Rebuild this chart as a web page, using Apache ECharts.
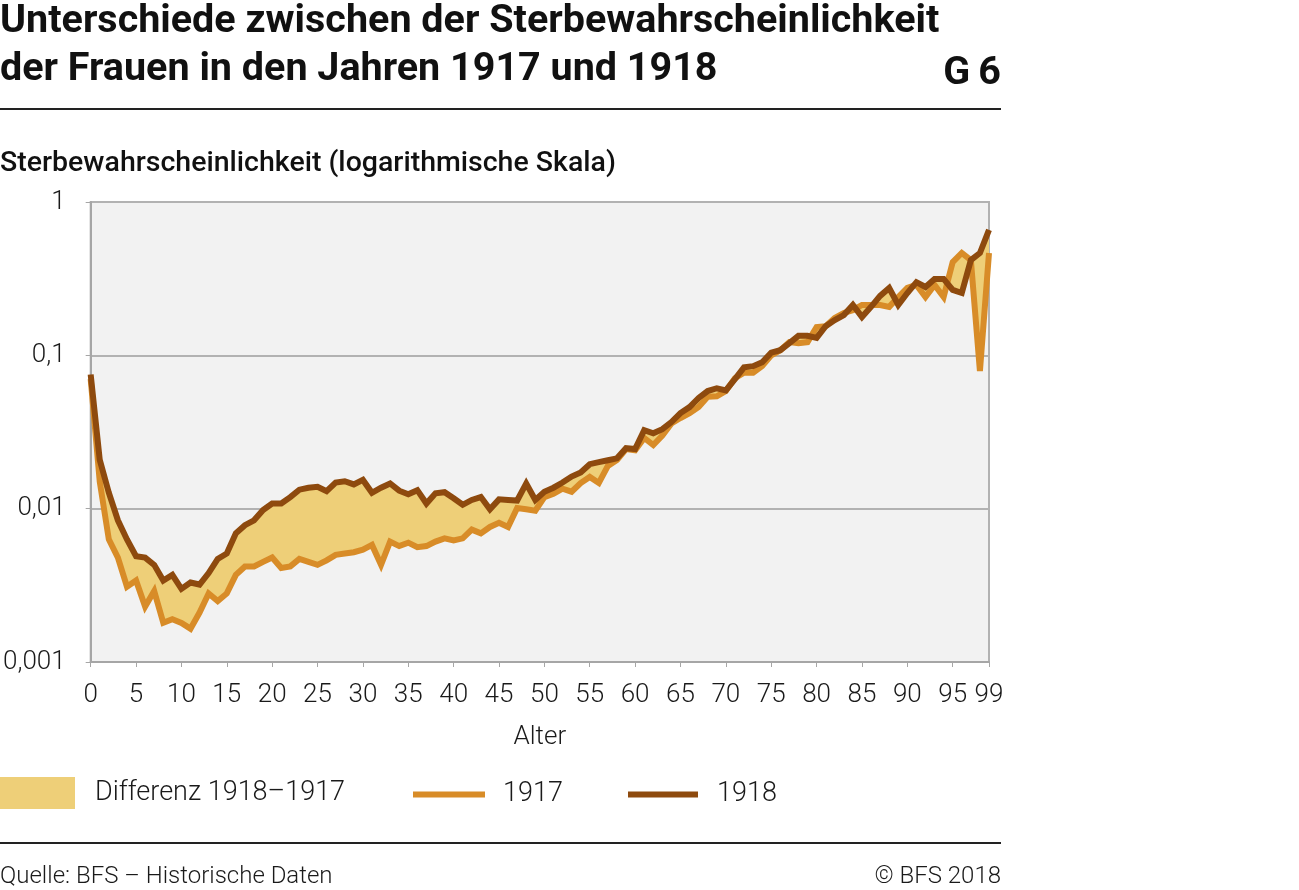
<!DOCTYPE html>
<html>
<head>
<meta charset="utf-8">
<script src="https://cdn.jsdelivr.net/npm/echarts@6/dist/echarts.min.js"></script>
<style>html,body{margin:0;padding:0;background:#fff}#c{width:1299px;height:890px}</style>
</head>
<body>
<div id="c"></div>
<script>
// ---- data ----
const ages = [];
for (let a = 0; a <= 99; a++) ages.push(a);

const v1917 = [
  0.070, 0.0150, 0.0063, 0.0048, 0.0031, 0.0034, 0.0023, 0.0029, 0.0018, 0.0019,
  0.0018, 0.00165, 0.0021, 0.0028, 0.0025, 0.0028, 0.0037, 0.0042, 0.0042, 0.0045,
  0.0048, 0.0041, 0.0042, 0.0047, 0.0045, 0.0043, 0.0046, 0.0050, 0.0051, 0.0052,
  0.0054, 0.0058, 0.0043, 0.0061, 0.0057, 0.0060, 0.0056, 0.0057, 0.0061, 0.0064,
  0.0062, 0.0064, 0.0073, 0.0069, 0.0076, 0.0081, 0.0076, 0.0101, 0.0099, 0.0097,
  0.0119, 0.0125, 0.0135, 0.0129, 0.0147, 0.0161, 0.0147, 0.0190, 0.0208, 0.0245,
  0.0240, 0.0289, 0.0260, 0.0300, 0.0360, 0.0390, 0.0420, 0.0460, 0.0536, 0.0540,
  0.0585, 0.0710, 0.0770, 0.0770, 0.0850, 0.1000, 0.1080, 0.1220, 0.1200, 0.1220,
  0.1530, 0.1550, 0.1750, 0.1890, 0.1970, 0.2130, 0.2130, 0.2130, 0.2070, 0.2400,
  0.2750, 0.2880, 0.2400, 0.2880, 0.2400, 0.4060, 0.4650, 0.4180, 0.0790, 0.4650
];

const v1918 = [
  0.075, 0.0208, 0.0127, 0.0084, 0.0063, 0.0049, 0.0048, 0.0043, 0.0034, 0.0037,
  0.0030, 0.0033, 0.0032, 0.0038, 0.0047, 0.0051, 0.0069, 0.0078, 0.0084, 0.0098,
  0.0108, 0.0108, 0.0119, 0.0133, 0.0137, 0.0139, 0.0130, 0.0148, 0.0151, 0.0144,
  0.0154, 0.0127, 0.0137, 0.0146, 0.0131, 0.0124, 0.0132, 0.0108, 0.0126, 0.0128,
  0.0117, 0.0106, 0.0114, 0.0119, 0.0099, 0.0115, 0.0114, 0.0113, 0.0146, 0.0114,
  0.0129, 0.0137, 0.0148, 0.0162, 0.0172, 0.0195, 0.0201, 0.0207, 0.0213, 0.0248,
  0.0245, 0.0325, 0.0310, 0.0330, 0.0367, 0.0420, 0.0460, 0.0527, 0.0585, 0.0610,
  0.0590, 0.0700, 0.0835, 0.0850, 0.0900, 0.1040, 0.1080, 0.1200, 0.1340, 0.1340,
  0.1300, 0.1550, 0.1700, 0.1830, 0.2130, 0.1780, 0.2070, 0.2440, 0.2750, 0.2130,
  0.2550, 0.3000, 0.2790, 0.3150, 0.3150, 0.2670, 0.2550, 0.4180, 0.4650, 0.6570
];

const yTickLabels = { '-3': '0,001', '-2': '0,01', '-1': '0,1', '0': '1' };

const seriesNames = ['Differenz 1918\u20131917', '1917', '1918'];
const titleLines = ['Unterschiede zwischen der Sterbewahrscheinlichkeit', 'der Frauen in den Jahren 1917 und 1918'];

// ---- styles ----
const FILL = '#eecf78';
const C1917 = '#d88c28';
const C1918 = '#8e4a0e';
const GRIDC = '#b2b2b2';
const FONT = 'Roboto';

const chart = echarts.init(document.getElementById('c'), null, { renderer: 'canvas' });

const legendText = { fontFamily: FONT, fontSize: 27, fontWeight: 300, color: '#1a1a1a' };

const option = {
  animation: false,
  backgroundColor: '#ffffff',
  grid: {
    left: 90, top: 202, width: 899, height: 460,
    show: true, backgroundColor: '#f2f2f2', borderColor: GRIDC, borderWidth: 2
  },
  xAxis: {
    type: 'value', min: 0, max: 99, interval: 5,
    name: 'Alter', nameLocation: 'middle', nameGap: 62,
    nameTextStyle: { fontFamily: FONT, fontSize: 26, fontWeight: 300, color: '#1a1a1a' },
    axisLine: { show: true, lineStyle: { color: '#a6a6a6', width: 2 } },
    axisTick: { show: true, length: 5, lineStyle: { color: '#a6a6a6', width: 1 } },
    splitLine: { show: false },
    axisLabel: { margin: 20, fontFamily: FONT, fontSize: 26, fontWeight: 300, color: '#1a1a1a' }
  },
  yAxis: {
    type: 'log', logBase: 10, min: 0.001, max: 1,
    axisLine: { show: true, lineStyle: { color: '#a6a6a6', width: 2 } },
    axisTick: { show: true, length: 5, lineStyle: { color: '#a6a6a6', width: 1 } },
    splitLine: { show: true, lineStyle: { color: GRIDC, width: 2 } },
    axisLabel: {
      margin: 25, fontFamily: FONT, fontSize: 26, fontWeight: 300, color: '#1a1a1a',
      formatter: function (v) {
        const k = String(Math.round(Math.log10(v)));
        return yTickLabels[k] !== undefined ? yTickLabels[k] : String(v).replace('.', ',');
      }
    }
  },
  legend: [
    {
      data: [seriesNames[0]], left: 0, top: 777, padding: 0,
      itemWidth: 75, itemHeight: 32, icon: 'rect', selectedMode: false,
      textStyle: Object.assign({ padding: [7, 0, 0, 15] }, legendText)
    },
    {
      data: [seriesNames[1]], left: 413, top: 781, padding: 0,
      itemWidth: 72, itemHeight: 6, icon: 'rect', selectedMode: false,
      textStyle: Object.assign({ padding: [0, 0, 0, 13] }, legendText)
    },
    {
      data: [seriesNames[2]], left: 628, top: 781, padding: 0,
      itemWidth: 70, itemHeight: 6, icon: 'rect', selectedMode: false,
      textStyle: Object.assign({ padding: [0, 0, 0, 14] }, legendText)
    }
  ],
  graphic: [
    { type: 'text', left: 0, top: 2, style: { text: titleLines[0], fontFamily: FONT, fontSize: 39.5, fontWeight: 'bold', fill: '#111' } },
    { type: 'text', left: 0, top: 50, style: { text: titleLines[1], fontFamily: FONT, fontSize: 39.5, fontWeight: 'bold', fill: '#111' } },
    { type: 'text', right: 298, top: 54, style: { text: 'G\u20096', fontFamily: FONT, fontSize: 39.5, fontWeight: 'bold', fill: '#111' } },
    { type: 'rect', left: 0, top: 108, shape: { width: 1001, height: 2 }, style: { fill: '#222' } },
    { type: 'text', left: 0, top: 149, style: { text: 'Sterbewahrscheinlichkeit (logarithmische Skala)', fontFamily: FONT, fontSize: 28.5, fontWeight: 500, fill: '#111' } },
    { type: 'rect', left: 0, top: 842, shape: { width: 1001, height: 2 }, style: { fill: '#222' } },
    { type: 'text', left: 0, top: 865, style: { text: 'Quelle: BFS \u2013 Historische Daten', fontFamily: FONT, fontSize: 24, fontWeight: 300, fill: '#1a1a1a' } },
    { type: 'text', right: 298, top: 865, style: { text: '\u00A9 BFS 2018', fontFamily: FONT, fontSize: 24, fontWeight: 300, fill: '#1a1a1a' } }
  ],
  series: [
    {
      name: seriesNames[0], type: 'custom', coordinateSystem: 'cartesian2d', z: 1, silent: true,
      itemStyle: { color: FILL },
      data: [[0, 0.01]],
      renderItem: function (params, api) {
        const pts = [];
        for (let i = 0; i < ages.length; i++) pts.push(api.coord([ages[i], v1918[i]]));
        for (let i = ages.length - 1; i >= 0; i--) pts.push(api.coord([ages[i], v1917[i]]));
        return { type: 'polygon', shape: { points: pts }, style: { fill: FILL } };
      }
    },
    {
      name: seriesNames[1], type: 'line', z: 2, symbol: 'none', silent: true,
      data: ages.map((a, i) => [a, v1917[i]]),
      itemStyle: { color: C1917 },
      lineStyle: { color: C1917, width: 6, join: 'miter', miterLimit: 10 }
    },
    {
      name: seriesNames[2], type: 'line', z: 3, symbol: 'none', silent: true,
      data: ages.map((a, i) => [a, v1918[i]]),
      itemStyle: { color: C1918 },
      lineStyle: { color: C1918, width: 6, join: 'miter', miterLimit: 10 }
    }
  ]
};

chart.setOption(option);
</script>
</body>
</html>
